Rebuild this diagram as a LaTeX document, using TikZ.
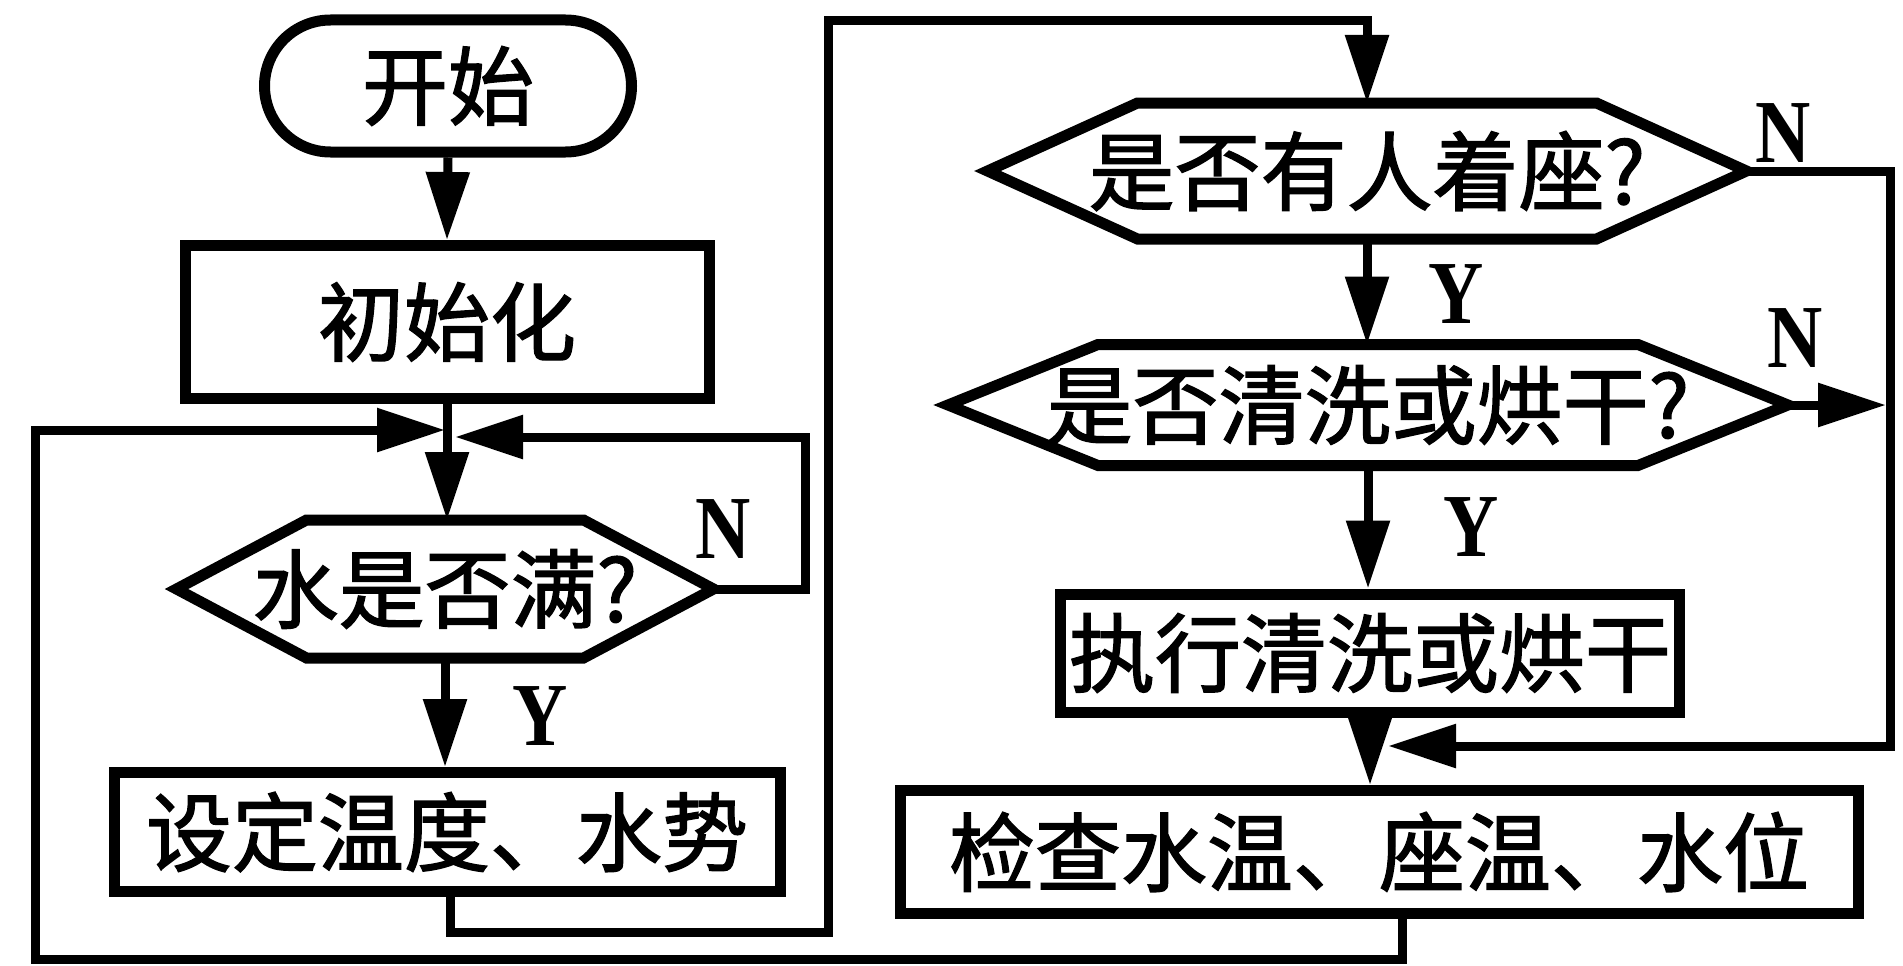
\documentclass[tikz,border=0pt]{standalone}
\usepackage{fontspec}
\newfontfamily\cjk[FakeBold=1.6]{Noto Sans CJK SC}
\newfontfamily\yn[FakeStretch=0.85]{Liberation Serif}
\usetikzlibrary{arrows.meta}
\tikzset{
  conn/.style={line width=9pt, line join=miter},
  arr/.style={conn, -{Triangle[length=68pt 0 0, width=42pt 0 0]}},
  cjktext/.style={font=\cjk\fontsize{86}{90}\selectfont},
  box/.style={draw, line width=11pt, inner sep=0pt, cjktext},
  term/.style={box, rounded corners=66pt},
  hexa/.style={inner sep=0pt, outer sep=0pt, cjktext},
  hexline/.style={line width=11pt, line join=miter},
  lab/.style={font=\yn\bfseries\fontsize{90}{90}\selectfont, inner sep=0pt}
}
\newcommand{\hexdraw}[2]{%
  \draw[hexline] (#1.west) -- ([xshift=#2]#1.north west) -- ([xshift=-#2]#1.north east)
    -- (#1.east) -- ([xshift=-#2]#1.south east) -- ([xshift=#2]#1.south west) -- cycle;}
\begin{document}
\begin{tikzpicture}[x=1pt,y=-1pt]
\useasboundingbox (0,0) rectangle (1903,966);
\fill[white] (0,0) rectangle (1903,966);
% nodes
\node[term, minimum width=367pt, minimum height=132pt] (start) at (448,86) {开始};
\node[box, minimum width=524pt, minimum height=153pt] (init) at (447,322) {初始化};
\node[hexa, minimum width=537pt, minimum height=138pt] (full) at (445,589) {水是否满?};
\node[box, minimum width=666pt, minimum height=119pt] (set) at (447,832) {设定温度、水势};
\node[hexa, minimum width=759pt, minimum height=136pt] (seat) at (1367,171) {是否有人着座?};
\node[hexa, minimum width=840pt, minimum height=121pt] (wash) at (1368,405) {是否清洗或烘干?};
\node[box, minimum width=619pt, minimum height=118pt] (exec) at (1370,653) {执行清洗或烘干};
\node[box, minimum width=958pt, minimum height=123pt] (check) at (1379,852) {检查水温、座温、水位};
\hexdraw{full}{130pt}
\hexdraw{seat}{150pt}
\hexdraw{wash}{150pt}
% labels
\node[lab] (nA) at (723,529) {N};
\node[lab] (yA) at (540,716) {Y};
\node[lab] (nB) at (1783,133) {N};
\node[lab] (yB) at (1456,294) {Y};
\node[lab] (nC) at (1795,338) {N};
\node[lab] (yC) at (1471,527) {Y};
% coordinates
\coordinate (jl) at (445,430);
\coordinate (jr) at (455,437);
\coordinate (bl) at (35,959);
\coordinate (nr) at (805,437);
\coordinate (s1) at (828,932);
\coordinate (s2) at (828,21);
\coordinate (r1) at (1890,746);
\coordinate (jx) at (1388,746);
\coordinate (r2) at (1886,405);
% connectors
\draw[arr] (start.south) -- (init.north);
\draw[arr] (init.south) -- (init.south |- full.north);
\draw[arr] ([xshift=23pt]check.south) |- (bl) |- (jl);
\draw[arr] (full.east) -| (nr) -- (jr);
\draw[arr] (full.south) -- (full.south |- set.north);
\draw[arr] ([xshift=3pt]set.south) |- (s1) -- (s2) -| (seat.north);
\draw[arr] (seat.south) -- (seat.south |- wash.north);
\draw[arr] (seat.east) -| (r1) -- (jx);
\draw[arr] (wash.east) -- (r2);
\draw[arr] (wash.south) -- (wash.south |- exec.north);
\draw[arr] (exec.south) -- (exec.south |- check.north);
\end{tikzpicture}
\end{document}
